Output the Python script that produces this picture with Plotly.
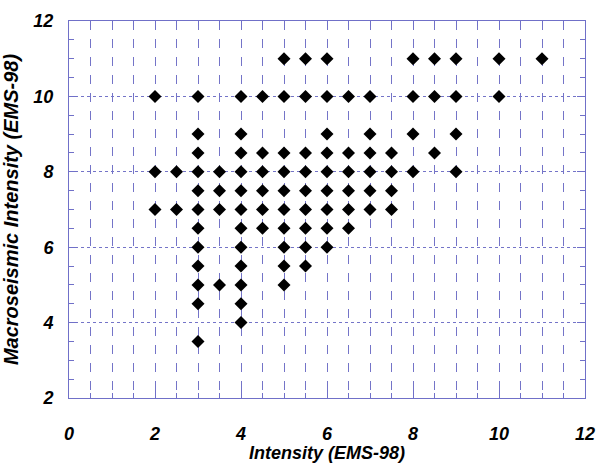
import plotly.graph_objects as go

# Data: observed intensity (x) vs macroseismic intensity (y)
col_x = [2, 2.5, 3, 3.5, 4, 4.5, 5, 5.5, 6, 6.5, 7, 7.5, 8, 8.5, 9, 10, 11]
col_y = [
    [10, 8, 7],
    [8, 7],
    [10, 9, 8.5, 8, 7.5, 7, 6.5, 6, 5.5, 5, 4.5, 3.5],
    [8, 7.5, 7, 5],
    [10, 9, 8.5, 8, 7.5, 7, 6.5, 6, 5.5, 5, 4.5, 4],
    [10, 8.5, 8, 7.5, 7, 6.5],
    [11, 10, 8.5, 8, 7.5, 7, 6.5, 6, 5.5, 5],
    [11, 10, 8.5, 8, 7.5, 7, 6.5, 6, 5.5],
    [11, 10, 9, 8.5, 8, 7.5, 7, 6.5, 6],
    [10, 8.5, 8, 7.5, 7, 6.5],
    [10, 9, 8.5, 8, 7.5, 7],
    [8.5, 8, 7.5, 7],
    [11, 10, 9, 8],
    [11, 10, 8.5],
    [11, 10, 9, 8],
    [11, 10],
    [11],
]
x_ticks = [0, 2, 4, 6, 8, 10, 12]
y_ticks = [2, 4, 6, 8, 10, 12]

xs, ys = [], []
for cx, cys in zip(col_x, col_y):
    for cy in cys:
        xs.append(cx)
        ys.append(cy)

fig = go.Figure(go.Scatter(
    x=xs, y=ys, mode="markers",
    marker=dict(symbol="diamond", size=10, color="black"),
    showlegend=False,
))

line_c = "#7070c8"
grid_c = "#7474c8"
fam = "Liberation Sans, Arial, sans-serif"
tfont = dict(family=fam, size=18, color="black", weight="bold", style="italic")
xtitle_font = dict(family=fam, size=18, color="black", weight="bold", style="italic")
ytitle_font = dict(family=fam, size=20, color="black", weight="bold", style="italic")

fig.update_xaxes(
    range=[0, 12], tickvals=x_ticks, ticktext=[str(v) for v in x_ticks],
    showline=True, linecolor=line_c, linewidth=1, mirror="ticks",
    ticks="inside", ticklen=8, tickcolor=line_c,
    showgrid=True, gridcolor=grid_c, gridwidth=1, griddash="dash",
    minor=dict(dtick=0.5, ticks="inside", ticklen=5, tickcolor=line_c,
               showgrid=True, gridcolor=grid_c, gridwidth=1, griddash="dash"),
    zeroline=False, tickfont=tfont, ticklabelstandoff=19,
    title=dict(text="Intensity (EMS-98)", font=xtitle_font, standoff=0),
)
fig.update_yaxes(
    range=[2, 12], tickvals=y_ticks, ticktext=[str(v) for v in y_ticks],
    showline=True, linecolor=line_c, linewidth=1, mirror="ticks",
    ticks="inside", ticklen=8, tickcolor=line_c,
    showgrid=True, gridcolor=grid_c, gridwidth=1, griddash="dot",
    minor=dict(dtick=0.5, ticks="inside", ticklen=5, tickcolor=line_c, showgrid=False),
    zeroline=False, tickfont=tfont, ticklabelstandoff=11,
    title=dict(text="Macroseismic Intensity (EMS-98)", font=ytitle_font, standoff=10),
)
fig.update_layout(
    width=597, height=463,
    margin=dict(l=69, r=12, t=21, b=65, autoexpand=False),
    paper_bgcolor="white", plot_bgcolor="white",
)
fig.write_html("out.html")
